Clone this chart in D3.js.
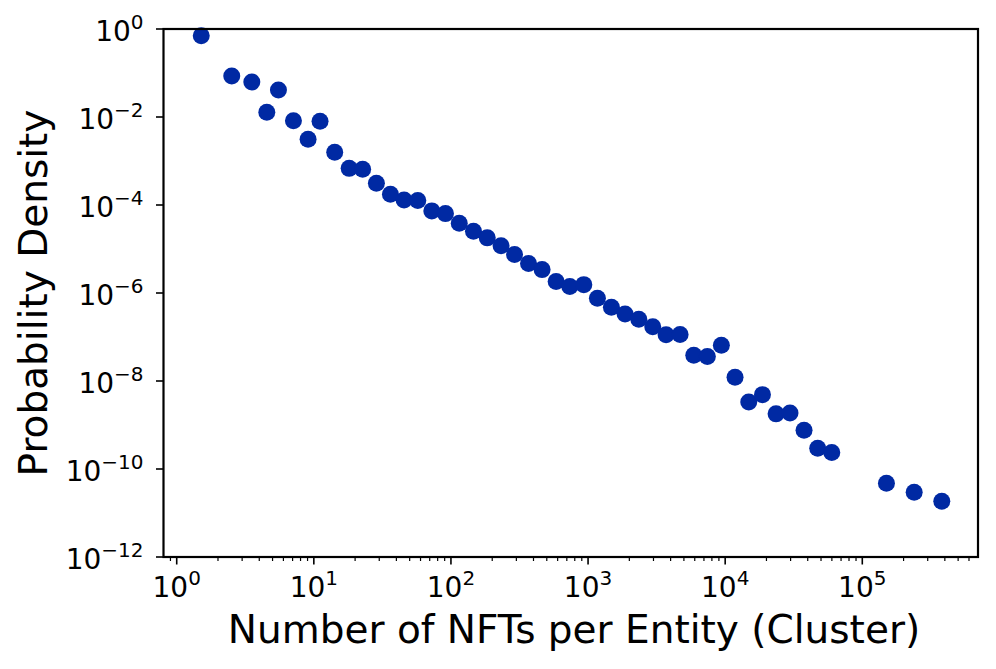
<!DOCTYPE html>
<html>
<head>
<meta charset="utf-8">
<script src="https://cdnjs.cloudflare.com/ajax/libs/d3/7.8.5/d3.min.js"></script>
<style>
  body { margin: 0; background: #fff; }
  svg text { font-family: "DejaVu Sans", sans-serif; fill: #000; }
</style>
</head>
<body>
<div id="chart"></div>
<script>
// binned sizes (NFTs per entity) and their probability density
var nftCounts = [1.51, 2.52, 3.53, 4.54, 5.52, 7.1, 9.08, 11.1, 14.2, 18.1,
                 22.7, 28.6, 36.2, 45.5, 57.3, 72.5, 91.2, 115, 146, 184,
                 232, 291, 368, 462, 585, 736, 931, 1170, 1480, 1862,
                 2344, 2965, 3707, 4690, 5902, 7413, 9380, 11800, 14860, 18700,
                 23500, 29700, 37600, 47300, 59900, 150000, 239000, 380000];
var density = [0.70, 0.0855, 0.0625, 0.0128, 0.0411, 0.00824, 0.00312, 0.0080, 0.00159, 6.8e-4,
               6.5e-4, 3.12e-4, 1.76e-4, 1.30e-4, 1.26e-4, 7.35e-5, 6.37e-5, 3.85e-5, 2.54e-5, 1.79e-5,
               1.18e-5, 7.5e-6, 4.66e-6, 3.40e-6, 1.82e-6, 1.40e-6, 1.55e-6, 7.6e-7, 4.76e-7, 3.35e-7,
               2.54e-7, 1.72e-7, 1.12e-7, 1.14e-7, 3.86e-8, 3.59e-8, 6.5e-8, 1.22e-8, 3.35e-9, 4.9e-9,
               1.79e-9, 1.88e-9, 7.6e-10, 2.97e-10, 2.36e-10, 4.77e-11, 2.97e-11, 1.85e-11];

var xTickExps = [0, 1, 2, 3, 4, 5];
var yTickExps = [0, -2, -4, -6, -8, -10, -12];

var xLabel = "Number of NFTs per Entity (Cluster)";
var yLabel = "Probability Density";

var width = 996, height = 669
  , plot = { left: 163.5, right: 978, top: 29, bottom: 557 }
  , dotColor = "#0029a3";

var x = d3.scaleLog().domain([0.801, 698000]).range([plot.left, plot.right]);
var y = d3.scaleLog().domain([1e-12, 1]).range([plot.bottom, plot.top]);

var svg = d3.select("#chart").append("svg")
    .attr("width", width)
    .attr("height", height);

// minor ticks on x (2..9 in each decade)
var minorX = [];
for (var e = -1; e <= 5; e++) {
  for (var m = 2; m <= 9; m++) {
    var v = m * Math.pow(10, e);
    if (v >= x.domain()[0] && v <= x.domain()[1]) minorX.push(v);
  }
}
svg.append("g").selectAll("line").data(minorX).enter().append("line")
    .attr("x1", function(d) { return x(d); })
    .attr("x2", function(d) { return x(d); })
    .attr("y1", plot.bottom)
    .attr("y2", plot.bottom + 4)
    .attr("stroke", "#000")
    .attr("stroke-width", 1.2);

// major x ticks + labels
var xt = svg.append("g").selectAll("g").data(xTickExps).enter().append("g")
    .attr("transform", function(d) { return "translate(" + x(Math.pow(10, d)) + ",0)"; });
xt.append("line")
    .attr("y1", plot.bottom).attr("y2", plot.bottom + 7.5)
    .attr("stroke", "#000").attr("stroke-width", 1.6);
var xtText = xt.append("text")
    .attr("y", plot.bottom + 40)
    .attr("text-anchor", "middle")
    .style("font-size", "28px");
xtText.append("tspan").text("10");
xtText.append("tspan").attr("dy", -12).style("font-size", "20px").text(function(d) { return d; });

// major y ticks + labels
var yt = svg.append("g").selectAll("g").data(yTickExps).enter().append("g")
    .attr("transform", function(d) { return "translate(0," + y(Math.pow(10, d)) + ")"; });
yt.append("line")
    .attr("x1", plot.left).attr("x2", plot.left - 7.5)
    .attr("stroke", "#000").attr("stroke-width", 1.6);
var ytText = yt.append("text")
    .attr("x", plot.left - 20)
    .attr("y", 11.5)
    .attr("text-anchor", "end")
    .style("font-size", "28px");
ytText.append("tspan").text("10");
ytText.append("tspan").attr("dy", -12).style("font-size", "20px")
    .text(function(d) { return d === 0 ? "0" : "\u2212" + Math.abs(d); });

// points
svg.append("g").selectAll("circle").data(nftCounts).enter().append("circle")
    .attr("cx", function(d) { return x(d); })
    .attr("cy", function(d, i) { return y(density[i]); })
    .attr("r", 8.5)
    .attr("fill", dotColor);

// frame
svg.append("rect")
    .attr("x", plot.left).attr("y", plot.top)
    .attr("width", plot.right - plot.left)
    .attr("height", plot.bottom - plot.top)
    .attr("fill", "none")
    .attr("stroke", "#000")
    .attr("stroke-width", 2.2);

// axis titles
svg.append("text")
    .attr("x", 574).attr("y", 643)
    .attr("text-anchor", "middle")
    .style("font-size", "39px")
    .text(xLabel);

svg.append("text")
    .attr("transform", "translate(47," + ((plot.top + plot.bottom) / 2) + ") rotate(-90)")
    .attr("text-anchor", "middle")
    .style("font-size", "39px")
    .text(yLabel);
</script>
</body>
</html>
